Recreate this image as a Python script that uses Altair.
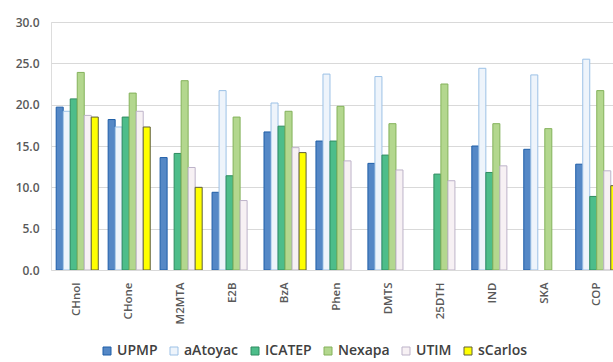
import altair as alt
import pandas as pd

categories = ["CHnol", "CHone", "M2MTA", "E2B", "BzA", "Phen", "DMTS", "25DTH", "IND", "SKA", "COP"]
series = ["UPMP", "aAtoyac", "ICATEP", "Nexapa", "UTIM", "sCarlos"]

UPMP = [19.7, 18.2, 13.6, 9.4, 16.7, 15.6, 12.9, None, 15.0, 14.6, 12.8]
aAtoyac = [19.2, 17.3, None, 21.7, 20.2, 23.7, 23.4, None, 24.4, 23.6, 25.5]
ICATEP = [20.7, 18.5, 14.1, 11.4, 17.4, 15.6, 13.9, 11.6, 11.8, None, 8.9]
Nexapa = [23.9, 21.4, 22.9, 18.5, 19.2, 19.8, 17.7, 22.5, 17.7, 17.1, 21.7]
UTIM = [18.7, 19.2, 12.4, 8.4, 14.8, 13.2, 12.1, 10.8, 12.6, None, 12.0]
sCarlos = [18.5, 17.3, 10.0, None, 14.2, None, None, None, None, None, 10.2]

y_ticks = [0, 5, 10, 15, 20, 25, 30]

fills = ["#5588c6", "#eef4fb", "#4dbd8a", "#b3d78e", "#f7f1f4", "#ffff00"]
strokes = ["#1f5ea8", "#9cc1e6", "#2e8c60", "#84b25b", "#bdb3c9", "#5e5e3a"]

values = {"UPMP": UPMP, "aAtoyac": aAtoyac, "ICATEP": ICATEP,
          "Nexapa": Nexapa, "UTIM": UTIM, "sCarlos": sCarlos}
rows = []
for s in series:
    for c, v in zip(categories, values[s]):
        if v is not None:
            rows.append({"category": c, "series": s, "value": v})
df = pd.DataFrame(rows)

FONT = "Open Sans"

legend = alt.Legend(
    title=None, orient="none", direction="horizontal",
    legendX=49, legendY=322, symbolType="square", symbolSize=64,
    symbolStrokeWidth=1, labelFontSize=14, labelColor="#404040",
    labelFont=FONT, labelFontWeight=600, columnPadding=9, labelOffset=3, padding=0,
)

chart = alt.Chart(df).mark_bar(strokeWidth=1, clip=True).encode(
    x=alt.X("category:N", sort=categories,
            scale=alt.Scale(range=[0, 572], paddingInner=0.19, paddingOuter=0.1),
            axis=alt.Axis(title=None, domain=False, ticks=False, labelAngle=-90,
                          labelPadding=12, labelColor="#595959", labelFontSize=11.5,
                          labelFont=FONT, labelFontWeight=600, grid=False)),
    xOffset=alt.XOffset("series:N", sort=series,
                        scale=alt.Scale(paddingInner=0, paddingOuter=0)),
    y=alt.Y("value:Q", scale=alt.Scale(domain=[0, 30], nice=False),
            axis=alt.Axis(title=None, values=y_ticks, format=".1f", domain=False,
                          ticks=False, labelPadding=12, labelColor="#595959",
                          labelFontSize=12, labelFont=FONT, labelFontWeight=600,
                          gridColor="#d9d9d9")),
    fill=alt.Fill("series:N", sort=series,
                  scale=alt.Scale(domain=series, range=fills), legend=legend),
    stroke=alt.Stroke("series:N", sort=series,
                      scale=alt.Scale(domain=series, range=strokes), legend=legend),
).properties(
    width=562, height=248,
    autosize=alt.AutoSizeParams(type="none"),
    padding={"left": 51, "top": 22, "right": 0, "bottom": 92},
).configure_view(stroke=None).configure(background="white")

chart.save("out.html", embed_options={"renderer": "svg", "actions": False})
